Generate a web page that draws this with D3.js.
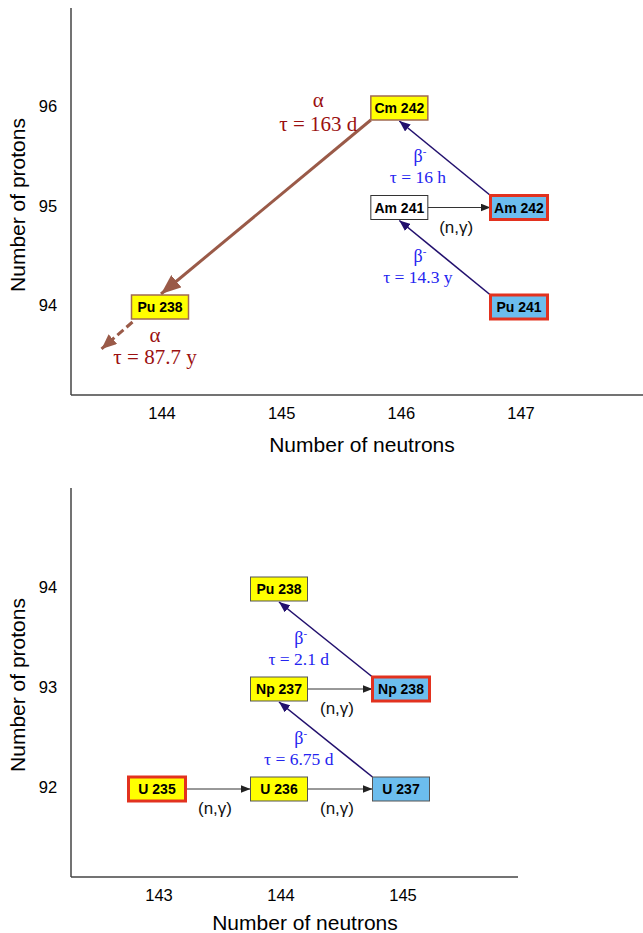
<!DOCTYPE html>
<html><head><meta charset="utf-8">
<script src="https://cdn.jsdelivr.net/npm/d3@7"></script>
<style>body{margin:0;background:#fff}svg{display:block}</style>
</head><body>
<script>
// ---------- DATA ----------
// top chart
const topNuclides = [
  {name:"Cm 242", N:146, Z:96, kind:"yellowBrown"},
  {name:"Am 241", N:146, Z:95, kind:"white"},
  {name:"Am 242", N:147, Z:95, kind:"blueRed"},
  {name:"Pu 241", N:147, Z:94, kind:"blueRed"},
  {name:"Pu 238", N:144, Z:94, kind:"yellowBrown"}
];
const topTransitions = [
  {from:"Am 242", to:"Cm 242", type:"beta", tau:"τ = 16 h"},
  {from:"Pu 241", to:"Am 241", type:"beta", tau:"τ = 14.3 y"},
  {from:"Am 241", to:"Am 242", type:"ng"},
  {from:"Cm 242", to:"Pu 238", type:"alpha", tau:"τ = 163 d"},
  {from:"Pu 238", toN:142, toZ:92, type:"alphaOut", tau:"τ = 87.7 y"}
];
const topXTicks = [144,145,146,147];
const topYTicks = [94,95,96];

// bottom chart
const botNuclides = [
  {name:"Pu 238", N:144, Z:94, kind:"yellow"},
  {name:"Np 237", N:144, Z:93, kind:"yellow"},
  {name:"Np 238", N:145, Z:93, kind:"blueRed"},
  {name:"U 235", N:143, Z:92, kind:"yellowRed"},
  {name:"U 236", N:144, Z:92, kind:"yellow"},
  {name:"U 237", N:145, Z:92, kind:"blue"}
];
const botTransitions = [
  {from:"Np 238", to:"Pu 238", type:"beta", tau:"τ = 2.1 d"},
  {from:"U 237", to:"Np 237", type:"beta", tau:"τ = 6.75 d"},
  {from:"Np 237", to:"Np 238", type:"ng"},
  {from:"U 235", to:"U 236", type:"ng"},
  {from:"U 236", to:"U 237", type:"ng"}
];
const botXTicks = [143,144,145];
const botYTicks = [92,93,94];

// ---------- STYLE ----------
const W=643,H=933;
const BW=57,BH=24;
const YEL="#ffff00", BLUE="#6cbdee", RED="#e2321f", BROWN="#9a5a48", NAVY="#22106e", BLUETXT="#2424f0", DARKRED="#9b1010";
const boxStyle = {
  yellowBrown:{fill:YEL, stroke:"#a06a52", sw:1.5},
  yellow:{fill:YEL, stroke:"#555", sw:1},
  white:{fill:"#fff", stroke:"#333", sw:1},
  blueRed:{fill:BLUE, stroke:RED, sw:3},
  blue:{fill:BLUE, stroke:"#555", sw:1},
  yellowRed:{fill:YEL, stroke:RED, sw:3}
};

const svg=d3.select("body").append("svg").attr("width",W).attr("height",H);
const defs=svg.append("defs");
function marker(id,color,w,h){
  defs.append("marker").attr("id",id).attr("viewBox",`0 0 ${w} ${h}`)
    .attr("refX",w).attr("refY",h/2).attr("markerWidth",w).attr("markerHeight",h)
    .attr("markerUnits","userSpaceOnUse").attr("orient","auto")
    .append("path").attr("d",`M0,0L${w},${h/2}L0,${h}Z`).attr("fill",color);
}
marker("mAlpha",BROWN,20,16);
marker("mAlphaS",BROWN,15,13);
marker("mBeta",NAVY,11,9);
marker("mNg","#222",10,8);

function chart(cfg){
  const g=svg.append("g");
  const x=d3.scaleLinear().domain(cfg.xd).range(cfg.xr);
  const y=d3.scaleLinear().domain(cfg.yd).range(cfg.yr);
  g.append("line").attr("x1",cfg.ax).attr("x2",cfg.ax).attr("y1",cfg.axTop).attr("y2",cfg.axY)
    .attr("stroke","#444").attr("stroke-width",1.5);
  g.append("line").attr("x1",cfg.ax).attr("x2",cfg.axRight).attr("y1",cfg.axY).attr("y2",cfg.axY)
    .attr("stroke","#444").attr("stroke-width",1.5);
  const font="Liberation Sans, Arial, sans-serif";
  g.selectAll(".xt").data(cfg.xt).join("text").attr("x",d=>x(d)+2).attr("y",cfg.axY+24)
    .attr("text-anchor","middle").attr("font-family",font).attr("font-size",16.5).text(d=>d);
  g.selectAll(".yt").data(cfg.yt).join("text").attr("x",48).attr("y",d=>y(d)+4)
    .attr("text-anchor","middle").attr("font-family",font).attr("font-size",16.5).text(d=>d);
  g.append("text").attr("x",cfg.xTitleX).attr("y",cfg.axY+cfg.xTitleDy).attr("text-anchor","middle")
    .attr("font-family",font).attr("font-size",21).text("Number of neutrons");
  g.append("text").attr("transform",`translate(25,${cfg.yTitleY}) rotate(-90)`).attr("text-anchor","middle")
    .attr("font-family",font).attr("font-size",21).text("Number of protons");

  const byName={}; cfg.nuc.forEach(n=>byName[n.name]={cx:x(n.N),cy:y(n.Z),...n});
  const serif="Liberation Serif, Times New Roman, serif";
  function line(x1,y1,x2,y2,color,w,m,dash){
    g.append("line").attr("x1",x1).attr("y1",y1).attr("x2",x2).attr("y2",y2)
      .attr("stroke",color).attr("stroke-width",w).attr("marker-end",`url(#${m})`)
      .attr("stroke-dasharray",dash||null);
  }
  cfg.tr.forEach(t=>{
    const a=byName[t.from];
    if(t.type==="beta"){
      const b=byName[t.to];
      const x1=a.cx-BW/2, y1=a.cy-BH/2, x2=b.cx, y2=b.cy+BH/2+1;
      line(x1,y1,x2,y2,NAVY,1.6,"mBeta");
      const mx=(x1+x2)/2-26, my=(y1+y2)/2;
      const bt=g.append("text").attr("x",mx+1).attr("y",my+4).attr("text-anchor","middle")
        .attr("font-family",serif).attr("font-size",18).attr("fill",BLUETXT);
      bt.append("tspan").text("β");
      bt.append("tspan").attr("dy",-7).attr("font-size",11).text("-");
      g.append("text").attr("x",mx-1).attr("y",my+25).attr("text-anchor","middle")
        .attr("font-family",serif).attr("font-size",17.5).attr("fill",BLUETXT).text(t.tau);
    } else if(t.type==="ng"){
      const b=byName[t.to];
      const x1=a.cx+BW/2, x2=b.cx-BW/2;
      line(x1,a.cy,x2,b.cy,"#333",1,"mNg");
      g.append("text").attr("x",(x1+x2)/2-3).attr("y",a.cy+25).attr("text-anchor","middle")
        .attr("font-family",font).attr("font-size",17).attr("fill","#111").text("(n,γ)");
    } else if(t.type==="alpha"){
      const b=byName[t.to];
      line(a.cx-BW/2,a.cy+BH/2,b.cx+1,b.cy-BH/2-1,BROWN,3,"mAlpha");
      g.append("text").attr("x",a.cx-81).attr("y",a.cy-1).attr("text-anchor","middle")
        .attr("font-family",serif).attr("font-size",21).attr("fill",DARKRED).text("α");
      g.append("text").attr("x",a.cx-81).attr("y",a.cy+23).attr("text-anchor","middle")
        .attr("font-family",serif).attr("font-size",21).attr("fill",DARKRED).text(t.tau);
    } else if(t.type==="alphaOut"){
      const x1=a.cx-BW/2+1, y1=a.cy+BH/2+3;
      const tx=x(t.toN), ty=y(t.toZ);
      const dx=tx-x1, dy=ty-y1, L=Math.hypot(dx,dy), len=41;
      line(x1,y1,x1+dx/L*len,y1+dy/L*len,BROWN,3,"mAlphaS","8,4");
      g.append("text").attr("x",a.cx-5).attr("y",a.cy+35).attr("text-anchor","middle")
        .attr("font-family",serif).attr("font-size",21).attr("fill",DARKRED).text("α");
      g.append("text").attr("x",a.cx-5).attr("y",a.cy+57).attr("text-anchor","middle")
        .attr("font-family",serif).attr("font-size",21).attr("fill",DARKRED).text(t.tau);
    }
  });
  Object.values(byName).forEach(n=>{
    const s=boxStyle[n.kind];
    g.append("rect").attr("x",n.cx-BW/2).attr("y",n.cy-BH/2).attr("width",BW).attr("height",BH)
      .attr("fill",s.fill).attr("stroke",s.stroke).attr("stroke-width",s.sw);
    g.append("text").attr("x",n.cx).attr("y",n.cy+5).attr("text-anchor","middle")
      .attr("font-family",font).attr("font-weight","bold").attr("font-size",14).text(n.name);
  });
}

chart({xd:[144,147],xr:[160,519],yd:[94,96],yr:[307,108],ax:71,axTop:8,axY:395,axRight:643,
  xt:topXTicks,yt:topYTicks,xTitleX:362,xTitleDy:57,yTitleY:205,nuc:topNuclides,tr:topTransitions});
chart({xd:[143,145],xr:[157,401],yd:[92,94],yr:[789,589],ax:71,axTop:488,axY:877,axRight:518,
  xt:botXTicks,yt:botYTicks,xTitleX:305,xTitleDy:53,yTitleY:685,nuc:botNuclides,tr:botTransitions});
</script>
</body></html>
